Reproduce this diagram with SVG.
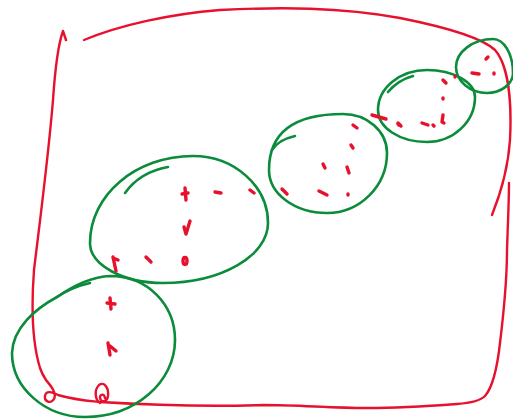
<svg xmlns="http://www.w3.org/2000/svg" width="513" height="419" viewBox="0 0 513 419">
<style>
.r{fill:none;stroke:#e8112d;stroke-width:2.4;stroke-linecap:round;stroke-linejoin:round}
.g{fill:none;stroke:#0a8c3a;stroke-width:2.6;stroke-linecap:round;stroke-linejoin:round}
.d{fill:none;stroke:#e8112d;stroke-width:3.4;stroke-linecap:round;stroke-linejoin:round}
</style>
<rect width="513" height="419" fill="#fff"/>
<g id="frame">
<path class="r" d="M84,40 C120,25 170,14 220,10 C280,7 340,7 400,18 C440,26 480,36 495,50 C508,65 512,100 510,140 C508,170 500,195 492,215"/>
<path class="r" d="M66,40 L63,31 C58,45 55,70 53,100 C48,160 40,220 34,270 C31,310 33,345 40,368 C42,374 44,377 46,380 C51,386 57,393 54,399 C51,404 44,402 45,396 C46,390 52,392 58,395 C75,400 90,401 100,402 C150,405 200,407 263,405 C300,405 330,408 367,408 C400,408 430,406 457,404 C470,403 480,401 485,396 C492,388 497,370 500,343 C504,310 507,283 507,250 C508,220 509,200 509,183"/>
<path class="r" d="M100,403 C95,400 94,390 99,385 C104,381 109,388 108,396 C107,402 101,403 100,398 C100,394 104,393 105,398"/>
</g>
<g id="circles">
<path class="g" d="M12,353 C13,328 35,309 57,297 C70,288 88,277 110,276 C148,276 175,305 175,340 C175,382 135,417 85,417 C45,417 12,388 12,353 Z"/>
<path class="g" d="M57,297 Q72,287 90,283"/>
<path class="g" d="M90,243 C90,195 136,156 193,156 C234,156 268,186 268,223 C268,256 221,283 163,283 C123,283 90,265 90,243 Z"/>
<path class="g" d="M125,193 Q140,172 168,167"/>
<path class="g" d="M269,170 C269,132 294,114 343,114 C367,114 387,131 387,153 C387,186 360,213 327,213 C295,213 269,194 269,170 Z"/>
<path class="g" d="M272,150 Q278,140 295,136"/>
<path class="g" d="M378,110 C378,88 400,70 427,70 C453,70 475,82 475,97 C475,122 453,142 427,142 C400,142 378,128 378,110 Z"/>
<path class="g" d="M388,92 Q398,80 413,76"/>
<path class="g" d="M456,67 C456,52 473,39 493,39 C504,39 513,54 513,73 C513,84 501,93 487,93 C470,93 456,81 456,67 Z"/>
</g>
<g id="marks">
<path class="d" d="M110,298 L111,309 M107,303 L115,304"/>
<path class="d" d="M108,343 L110,355 M110,346 L116,351"/>
<path class="d" d="M113,257 L116,271 M113,258 L118,260"/>
<path class="d" d="M146,257 L151,262"/>
<ellipse class="d" cx="185" cy="261" rx="2" ry="3.5" stroke-width="2.8"/>
<path class="d" d="M184,227 L186,234 L190,221"/>
<path class="d" d="M185,188 L186,200 M182,194 L188,193"/>
<path class="d" d="M215,192 L221,193"/>
<path class="d" d="M250,190 L254,193"/>
<path class="d" d="M353,125 L357,128"/>
<path class="d" d="M351,145 L353,148"/>
<path class="d" d="M323,164 L325,168"/>
<path class="d" d="M347,167 L349,173"/>
<path class="d" d="M282,189 L287,194"/>
<path class="d" d="M319,191 L327,195"/>
<path class="d" d="M348,194 L348,195"/>
<path class="d" d="M372,115 L386,119"/>
<path class="d" d="M398,124 L399,125"/>
<path class="d" d="M443,80 L446,83"/>
<path class="d" d="M443,98 L443,99"/>
<path class="d" d="M443,115 L442,122 L444,123"/>
<path class="d" d="M422,123 L428,125"/>
<path class="d" d="M433,125 L434,126"/>
<path class="d" d="M398,123 L401,126"/>
<path class="d" d="M455,76 L455,77"/>
<path class="d" d="M486,59 L488,57"/>
<path class="d" d="M472,73 L479,74"/>
<path class="d" d="M494,73 L494,74"/>
</g>
</svg>
